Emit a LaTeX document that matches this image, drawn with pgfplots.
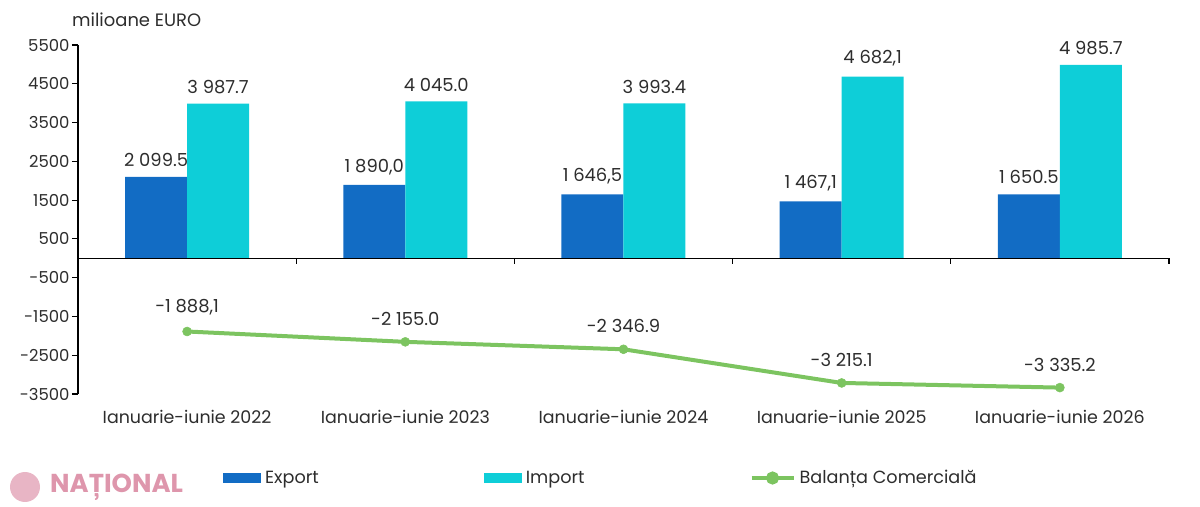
\documentclass[border=0pt]{standalone}
\usepackage{fontspec}
\setmainfont{Poppins}
\usepackage{pgfplots}
\pgfplotsset{compat=1.18}
\usepackage{pgfplotstable}

\definecolor{expc}{RGB}{18,108,196}
\definecolor{impc}{RGB}{14,206,216}
\definecolor{balc}{RGB}{124,196,96}
\definecolor{txt}{RGB}{45,45,45}
\definecolor{wm}{RGB}{222,150,172}

\pgfplotsset{
  barleg/.style={legend image code/.code={\fill[##1] (0bp,-5bp) rectangle (38bp,5bp);}},
  lineleg/.style={legend image code/.code={\draw[##1] (0bp,0bp) -- (42bp,0bp);
     \fill[balc] (21bp,0bp) circle (4.5bp);}},
}

\pgfplotstableread[col sep=semicolon]{
x;exp;explab;imp;implab;bal;ballab
0;2099.5;2 099.5;3987.7;3 987.7;-1888.1;-1 888,1
1;1890.0;1 890,0;4045.0;4 045.0;-2155.0;-2 155.0
2;1646.5;1 646,5;3993.4;3 993.4;-2346.9;-2 346.9
3;1467.1;1 467,1;4682.1;4 682,1;-3215.1;-3 215.1
4;1650.5;1 650.5;4985.7;4 985.7;-3335.2;-3 335.2
}\data

\begin{document}
\begin{tikzpicture}
\path[use as bounding box] (0,0) rectangle (1200bp,507bp);
\begin{axis}[
  at={(78bp,113bp)}, anchor=south west,
  scale only axis, width=1091bp, height=349bp,
  xmin=-0.5, xmax=4.5, ymin=-3500, ymax=5500,
  clip=false,
  axis lines*=left,
  x axis line style={draw=none},
  y axis line style={line width=1.2bp, black},
  xtick={0,1,2,3,4},
  xticklabels={Ianuarie-iunie 2022,Ianuarie-iunie 2023,Ianuarie-iunie 2024,Ianuarie-iunie 2025,Ianuarie-iunie 2026},
  xtick style={draw=none},
  xticklabel style={font=\fontsize{17.5}{20}\selectfont, text=txt, yshift=-7bp},
  ytick={-3500,-2500,...,5500},
  ytick style={line width=1.2bp, black},
  tick align=outside, major tick length=6bp,
  yticklabel style={font=\fontsize{16.5}{19}\selectfont, text=txt, xshift=1bp,
    /pgf/number format/1000 sep={}, /pgf/number format/assume math mode=true},
  legend columns=3,
  legend style={draw=none, fill=none, inner sep=0pt,
    at={(0.1329,-0.2407)}, anchor=west,
    font=\fontsize{17.7}{20}\selectfont, text=txt,
    /tikz/every odd column/.append style={column sep=2bp},
    /tikz/every even column/.append style={column sep=163bp}},
  nodes near coords style={font=\fontsize{18}{20}\selectfont, text=txt},
]
\addplot[ybar, bar width=62bp, bar shift=-31bp, fill=expc, draw=none, barleg,
  nodes near coords, point meta=explicit symbolic,
  every node near coord/.append style={anchor=south, inner sep=0pt, yshift=10bp, xshift=-31bp}]
  table[x=x, y=exp, meta=explab]{\data};
\addlegendentry{Export}
\addplot[ybar, bar width=62bp, bar shift=31bp, fill=impc, draw=none, barleg,
  nodes near coords, point meta=explicit symbolic,
  every node near coord/.append style={anchor=south, inner sep=0pt, yshift=10bp, xshift=31bp}]
  table[x=x, y=imp, meta=implab]{\data};
\addlegendentry{Import}
\addplot[balc, line width=4bp, mark=*, mark size=4.5bp, lineleg,
  mark options={fill=balc, draw=balc, line width=0.5bp},
  nodes near coords, point meta=explicit symbolic,
  every node near coord/.append style={anchor=south, inner sep=0pt, yshift=16bp}]
  table[x=x, y=bal, meta=ballab]{\data};
\addlegendentry{Balan\char"021B a Comercial\char"0103}
\draw[black, line width=1.2bp] (axis cs:-0.5,0) -- (axis cs:4.5,0);
\draw[black, line width=1.2bp] (axis cs:0.5,0) -- ++(0pt,-6bp);
\draw[black, line width=1.2bp] (axis cs:1.5,0) -- ++(0pt,-6bp);
\draw[black, line width=1.2bp] (axis cs:2.5,0) -- ++(0pt,-6bp);
\draw[black, line width=1.2bp] (axis cs:3.5,0) -- ++(0pt,-6bp);
\draw[black, line width=1.2bp] (axis cs:4.5,0) -- ++(0pt,-6bp);
\end{axis}
\node[anchor=west, inner sep=0pt, text=txt, font=\fontsize{18}{20}\selectfont] at (72bp,487bp) {milioane EURO};
\fill[wm, opacity=0.7] (25bp,20bp) circle (15bp);
\node[anchor=west, inner sep=0pt, text=wm, font=\fontsize{26}{30}\selectfont\bfseries] at (50bp,20bp) {NA\char"021A IONAL};
\end{tikzpicture}
\end{document}
